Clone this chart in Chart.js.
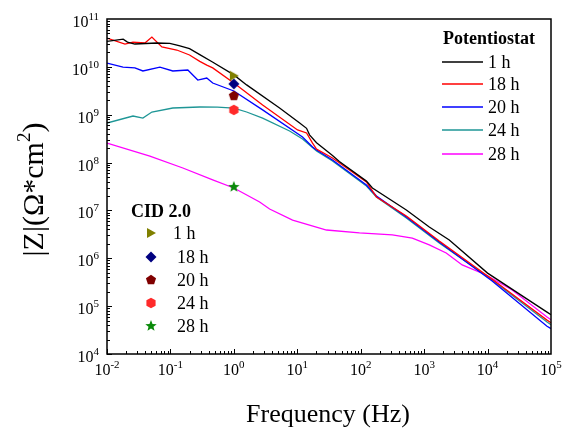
<!DOCTYPE html>
<html><head><meta charset="utf-8">
<script src="https://cdn.jsdelivr.net/npm/chart.js@4.4.1/dist/chart.umd.min.js"></script>
<style>html,body{margin:0;padding:0;background:#fff;}#wrap{width:571px;height:428px;}</style>
</head><body><div id="wrap"><canvas id="c" width="571" height="428"></canvas></div>
<script>
// ---- data ----
const xTicks = [1e-2, 1e-1, 1e0, 1e1, 1e2, 1e3, 1e4, 1e5];
const xTickLabels = ['10^-2', '10^-1', '10^0', '10^1', '10^2', '10^3', '10^4', '10^5'];
const yTicks = [1e4, 1e5, 1e6, 1e7, 1e8, 1e9, 1e10, 1e11];
const yTickLabels = ['10^4', '10^5', '10^6', '10^7', '10^8', '10^9', '10^10', '10^11'];
const xTitle = 'Frequency (Hz)';
const yTitle = ['|Z|(\u03A9*cm', '2', ')'];
const potTitle = 'Potentiostat';
const cidTitle = 'CID 2.0';
const seriesLabels = ['1 h', '18 h', '20 h', '24 h', '28 h'];

const freq1h = [0.01, 0.018, 0.021, 0.0275, 0.061, 0.098, 0.141, 0.2, 0.29, 0.46, 1.0, 1.59, 5.26, 10.9, 14, 15.6, 20.1, 35.9, 46, 123, 153, 524, 1205, 2490, 10000, 86500, 100000];
const z1h = [3.4e10, 3.8e10, 3.3e10, 3.0e10, 3.15e10, 3.1e10, 2.75e10, 2.4e10, 1.8e10, 1.26e10, 6.8e9, 4.2e9, 1.38e9, 6.7e8, 5.2e8, 3.8e8, 2.6e8, 1.4e8, 1.05e8, 4.1e7, 2.94e7, 1.02e7, 4.5e6, 2.41e6, 4.9e5, 7.5e4, 6.6e4];

const freq18h = [0.01, 0.0192, 0.0257, 0.0396, 0.051, 0.0733, 0.126, 0.2, 0.29, 0.374, 0.464, 1.0, 2.84, 10.1, 14, 17.4, 20.1, 35.9, 123, 177, 524, 1730, 11800, 86500, 100000];
const z18h = [4.0e10, 3.0e10, 3.3e10, 3.15e10, 4.2e10, 2.6e10, 2.25e10, 1.77e10, 1.3e10, 1.09e10, 9.5e9, 4.6e9, 1.6e9, 4.8e8, 4.15e8, 2.56e8, 1.92e8, 1.25e8, 3.93e7, 1.91e7, 7.65e6, 2.3e6, 3.65e5, 5.1e4, 4.5e4];

const freq20h = [0.01, 0.0179, 0.0275, 0.0368, 0.0683, 0.109, 0.188, 0.27, 0.374, 0.464, 1.0, 2.84, 12.1, 17.4, 20.1, 35.9, 123, 177, 524, 1730, 11800, 86500, 100000];
const z20h = [1.2e10, 9.9e9, 9.5e9, 8.2e9, 9.9e9, 8.2e9, 8.6e9, 5.3e9, 5.85e9, 4.6e9, 3.13e9, 1.26e9, 3.42e8, 2.12e8, 1.83e8, 1.13e8, 3.4e7, 2.0e7, 7.3e6, 2.19e6, 3.36e5, 3.8e4, 3.4e4];

const freq24h = [0.01, 0.0257, 0.0368, 0.051, 0.109, 0.29, 0.55, 1.0, 1.59, 2.84, 7.56, 12.1, 20.1, 35.9, 123, 177, 524, 1730, 11800, 86500, 100000];
const z24h = [6.7e8, 9.4e8, 8.5e8, 1.14e9, 1.38e9, 1.45e9, 1.44e9, 1.38e9, 1.14e9, 8.5e8, 4.57e8, 3.11e8, 1.75e8, 1.08e8, 3.24e7, 1.91e7, 6.95e6, 2.09e6, 3.52e5, 4.67e4, 4.1e4];

const freq28h = [0.01, 0.0474, 0.157, 0.464, 1.0, 2.55, 3.66, 8.43, 28.9, 95.5, 315, 651, 1205, 2228, 3981, 9506, 24400, 86500, 100000];
const z28h = [2.56e8, 1.37e8, 7.7e7, 4.33e7, 2.94e7, 1.5e7, 1.07e7, 6.3e6, 3.9e6, 3.38e6, 3.07e6, 2.65e6, 1.9e6, 1.29e6, 7.25e5, 4.48e5, 2.18e5, 5.94e4, 5.2e4];

const cidFreq = [1, 1, 1, 1, 1];
const cidZ = [6.5e9, 4.4e9, 2.47e9, 1.26e9, 3.1e7];

// ---- styles ----
const lineColors = ['#000000', '#ff0000', '#0000ff', '#1e9696', '#ff00ff'];
const markerColors = ['#808000', '#000080', '#800000', '#ff2a2a', '#0a8a0a'];
const SERIF = '"Liberation Serif", "Times New Roman", serif';

function shapeCanvas(color, kind) {
  const s = 14, c = document.createElement('canvas');
  c.width = s; c.height = s;
  const g = c.getContext('2d');
  g.fillStyle = color;
  g.translate(s / 2, s / 2);
  g.beginPath();
  if (kind === 'tri') {
    g.moveTo(5, 0); g.lineTo(-4, -5); g.lineTo(-4, 5);
  } else if (kind === 'diamond') {
    g.moveTo(0, -5.5); g.lineTo(5.5, 0); g.lineTo(0, 5.5); g.lineTo(-5.5, 0);
  } else if (kind === 'star') {
    for (let i = 0; i < 10; i++) {
      const r = i % 2 === 0 ? 6 : 2.6;
      const a = -Math.PI / 2 + i * Math.PI / 5;
      g.lineTo(r * Math.cos(a), r * Math.sin(a));
    }
  } else {
    const n = kind === 'pent' ? 5 : 6;
    const r = 5.3;
    for (let i = 0; i < n; i++) {
      const a = -Math.PI / 2 + i * 2 * Math.PI / n;
      g.lineTo(r * Math.cos(a), r * Math.sin(a));
    }
  }
  g.closePath();
  g.fill();
  return c;
}
const markerKinds = ['tri', 'diamond', 'pent', 'hex', 'star'];
const markerImgs = markerKinds.map((k, i) => shapeCanvas(markerColors[i], k));

const lineFreqs = [freq1h, freq18h, freq20h, freq24h, freq28h];
const lineZs = [z1h, z18h, z20h, z24h, z28h];

const datasets = [];
lineFreqs.forEach((fr, i) => {
  datasets.push({
    label: seriesLabels[i],
    data: fr.map((f, j) => ({ x: f, y: lineZs[i][j] })),
    showLine: true,
    borderColor: lineColors[i],
    backgroundColor: lineColors[i],
    borderWidth: 1.3,
    pointRadius: 0,
    tension: 0,
    order: 2,
    group: 'pot'
  });
});
cidFreq.forEach((f, i) => {
  datasets.push({
    label: seriesLabels[i],
    data: [{ x: f, y: cidZ[i] }],
    showLine: false,
    pointStyle: markerImgs[i],
    pointRadius: 6,
    backgroundColor: markerColors[i],
    borderColor: markerColors[i],
    order: 1,
    group: 'cid'
  });
});

function drawPow(ctx, label, x, baseline, align) {
  const parts = label.split('^');
  ctx.font = '16px ' + SERIF;
  const wb = ctx.measureText(parts[0]).width;
  ctx.font = '11px ' + SERIF;
  const we = ctx.measureText(parts[1]).width;
  const total = wb + we;
  let sx = align === 'right' ? x - total : x - total / 2;
  ctx.textAlign = 'left';
  ctx.textBaseline = 'alphabetic';
  ctx.font = '16px ' + SERIF;
  ctx.fillText(parts[0], sx, baseline);
  ctx.font = '11px ' + SERIF;
  ctx.fillText(parts[1], sx + wb, baseline - 7);
}

const decor = {
  id: 'decor',
  beforeDraw(chart) {
    const ctx = chart.ctx;
    ctx.save();
    ctx.fillStyle = '#fff';
    ctx.fillRect(0, 0, chart.width, chart.height);
    ctx.restore();
  },
  afterDatasetsDraw(chart) {
    const ctx = chart.ctx, a = chart.chartArea;
    const xs = chart.scales.x, ys = chart.scales.y;
    ctx.save();
    ctx.strokeStyle = '#000';
    ctx.lineWidth = 1.5;
    ctx.strokeRect(a.left, a.top, a.right - a.left, a.bottom - a.top);
    ctx.lineWidth = 1;
    ctx.beginPath();
    for (let d = -2; d <= 4; d++) {
      for (let m = 1; m <= 9; m++) {
        const px = Math.round(xs.getPixelForValue(m * Math.pow(10, d))) + 0.5;
        const len = m === 1 ? 5 : 3;
        ctx.moveTo(px, a.bottom); ctx.lineTo(px, a.bottom - len);
      }
    }
    for (let d = 4; d <= 10; d++) {
      for (let m = 1; m <= 9; m++) {
        const py = Math.round(ys.getPixelForValue(m * Math.pow(10, d))) + 0.5;
        const len = m === 1 ? 5 : 3;
        ctx.moveTo(a.left, py); ctx.lineTo(a.left + len, py);
      }
    }
    ctx.stroke();

    ctx.fillStyle = '#000';
    xs.ticks.forEach((t, i) => {
      drawPow(ctx, xTickLabels[i], xs.getPixelForValue(t.value), a.bottom + 21, 'center');
    });
    ys.ticks.forEach((t, i) => {
      drawPow(ctx, yTickLabels[i], a.left - 8, ys.getPixelForValue(t.value) + 8, 'right');
    });

    ctx.font = '26px ' + SERIF;
    ctx.textAlign = 'center';
    ctx.textBaseline = 'alphabetic';
    ctx.fillText(xTitle, (a.left + a.right) / 2 - 1, 422);

    ctx.save();
    ctx.translate(43, (a.top + a.bottom) / 2 + 3);
    ctx.rotate(-Math.PI / 2);
    ctx.font = '30px ' + SERIF;
    const w0 = ctx.measureText(yTitle[0]).width;
    ctx.font = '19px ' + SERIF;
    const w1 = ctx.measureText(yTitle[1]).width;
    ctx.font = '30px ' + SERIF;
    const w2 = ctx.measureText(yTitle[2]).width;
    let sx = -(w0 + w1 + w2) / 2;
    ctx.textAlign = 'left';
    ctx.fillText(yTitle[0], sx, 0);
    ctx.font = '19px ' + SERIF;
    ctx.fillText(yTitle[1], sx + w0, -13);
    ctx.font = '30px ' + SERIF;
    ctx.fillText(yTitle[2], sx + w0 + w1, 0);
    ctx.restore();

    ctx.textAlign = 'left';
    ctx.textBaseline = 'middle';
    ctx.font = 'bold 18px ' + SERIF;
    ctx.fillText(potTitle, 443, 39);
    const potRows = [62, 84, 107, 130, 154];
    ctx.font = '18px ' + SERIF;
    chart.data.datasets.filter(d => d.group === 'pot').forEach((d, i) => {
      ctx.strokeStyle = d.borderColor;
      ctx.lineWidth = 1.3;
      ctx.beginPath();
      ctx.moveTo(442, potRows[i]); ctx.lineTo(483, potRows[i]);
      ctx.stroke();
      ctx.fillStyle = '#000';
      ctx.fillText(d.label, 488, potRows[i] + 1);
    });

    ctx.font = 'bold 18px ' + SERIF;
    ctx.fillText(cidTitle, 131, 212);
    const cidRows = [233, 257, 280, 303, 326];
    ctx.font = '18px ' + SERIF;
    chart.data.datasets.filter(d => d.group === 'cid').forEach((d, i) => {
      const img = d.pointStyle;
      ctx.drawImage(img, 151 - img.width / 2, cidRows[i] - img.height / 2);
      ctx.fillStyle = '#000';
      ctx.fillText(d.label, i === 0 ? 173 : 177, cidRows[i] + 1);
    });
    ctx.restore();
  }
};

new Chart(document.getElementById('c'), {
  type: 'scatter',
  data: { datasets },
  options: {
    responsive: false,
    animation: false,
    layout: { padding: { top: 19, right: 20, left: 0, bottom: 0 } },
    plugins: { legend: { display: false }, tooltip: { enabled: false } },
    scales: {
      x: {
        type: 'logarithmic', position: 'bottom', min: 1e-2, max: 1e5,
        grid: { display: false }, border: { display: false },
        ticks: { display: false },
        afterBuildTicks: s => { s.ticks = xTicks.map(v => ({ value: v })); },
        afterFit: s => { s.height = 74; }
      },
      y: {
        type: 'logarithmic', position: 'left', min: 1e4, max: 1e11,
        grid: { display: false }, border: { display: false },
        ticks: { display: false },
        afterBuildTicks: s => { s.ticks = yTicks.map(v => ({ value: v })); },
        afterFit: s => { s.width = 107; }
      }
    }
  },
  plugins: [decor]
});
</script>
</body></html>
